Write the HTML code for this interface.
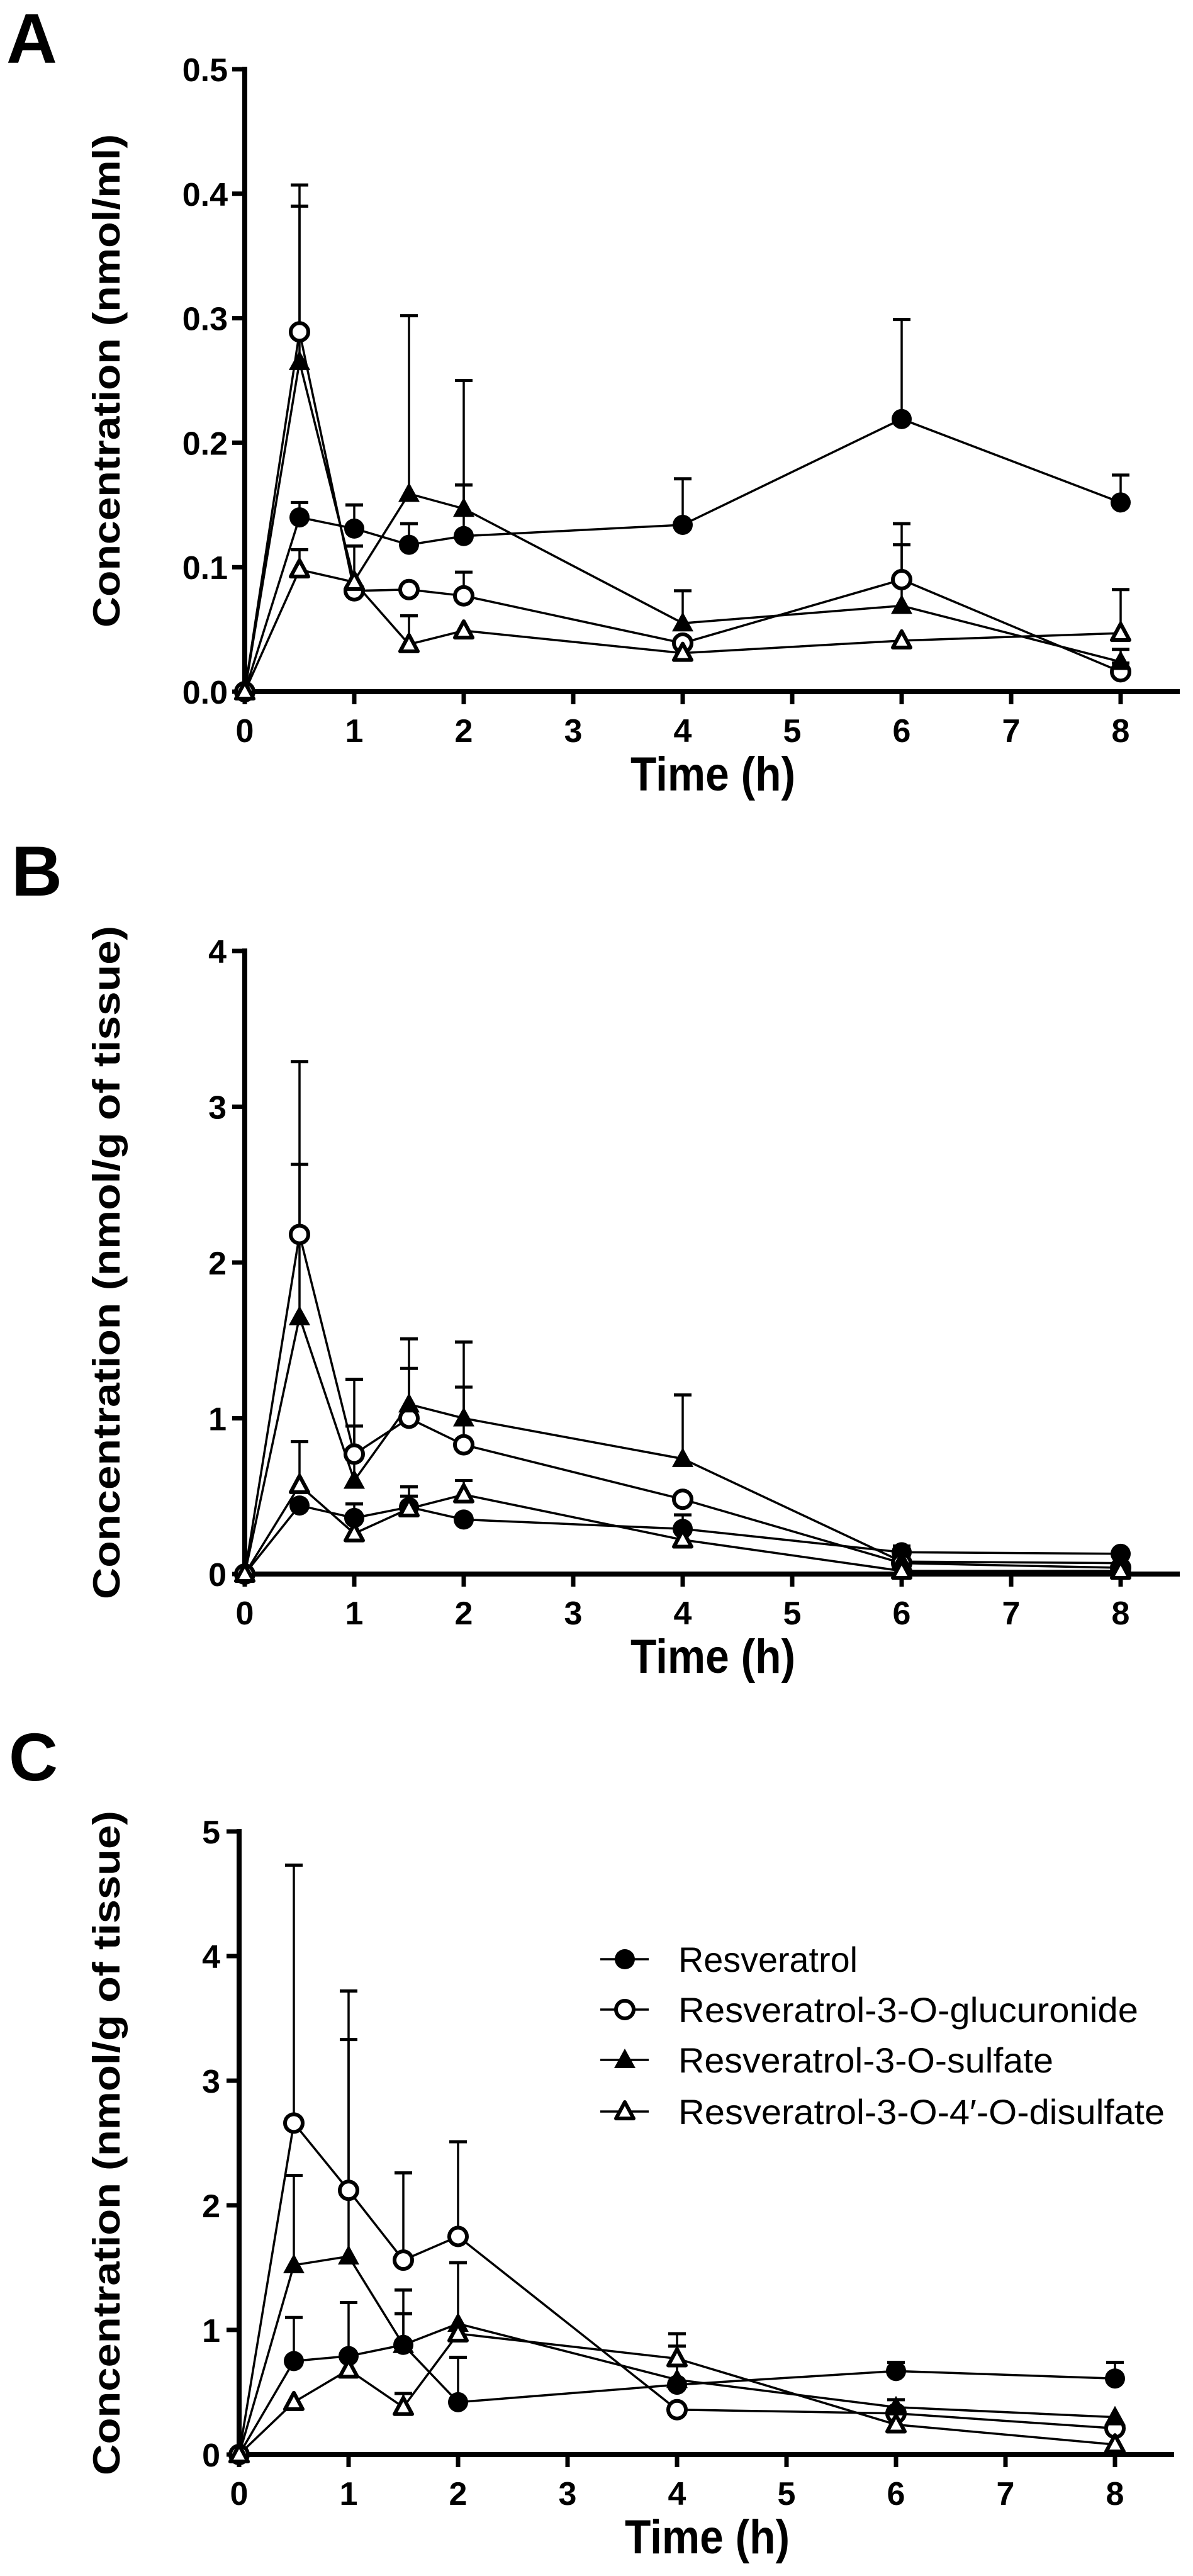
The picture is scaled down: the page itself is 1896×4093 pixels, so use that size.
<!DOCTYPE html>
<html><head><meta charset="utf-8"><style>
html,body{margin:0;padding:0;background:#fff;}
svg{display:block;}
text{font-family:"Liberation Sans",Arial,sans-serif;font-weight:bold;fill:#000;}
</style></head><body>
<svg id="s" xmlns="http://www.w3.org/2000/svg" width="1896" height="4093" viewBox="0 0 1896 4093">
<rect width="1896" height="4093" fill="#fff"/>
<text x="10" y="100" font-size="112">A</text>
<text x="18" y="1423" font-size="112">B</text>
<text x="14" y="2829" font-size="108">C</text>
<text transform="translate(190,605) rotate(-90)" text-anchor="middle" font-size="60" textLength="784" lengthAdjust="spacingAndGlyphs">Concentration (nmol/ml)</text>
<text transform="translate(190,2006) rotate(-90)" text-anchor="middle" font-size="60" textLength="1070" lengthAdjust="spacingAndGlyphs">Concentration (nmol/g of tissue)</text>
<text transform="translate(190,3405) rotate(-90)" text-anchor="middle" font-size="60" textLength="1056" lengthAdjust="spacingAndGlyphs">Concentration (nmol/g of tissue)</text>
<text x="1133" y="1256" text-anchor="middle" font-size="76" textLength="262" lengthAdjust="spacingAndGlyphs">Time (h)</text>
<text x="1133" y="2658" text-anchor="middle" font-size="76" textLength="262" lengthAdjust="spacingAndGlyphs">Time (h)</text>
<text x="1124" y="4057" text-anchor="middle" font-size="76" textLength="262" lengthAdjust="spacingAndGlyphs">Time (h)</text>
<g id="g"></g>
<g font-size="56">
<text x="1078" y="3133" style="font-weight:normal" textLength="285" lengthAdjust="spacingAndGlyphs">Resveratrol</text>
<text x="1078" y="3213" style="font-weight:normal" textLength="731" lengthAdjust="spacingAndGlyphs">Resveratrol-3-O-glucuronide</text>
<text x="1078" y="3293" style="font-weight:normal" textLength="596" lengthAdjust="spacingAndGlyphs">Resveratrol-3-O-sulfate</text>
<text x="1078" y="3375" style="font-weight:normal" textLength="773" lengthAdjust="spacingAndGlyphs">Resveratrol-3-O-4′-O-disulfate</text>
</g>
</svg>
<script>
var NS="http://www.w3.org/2000/svg",G=document.getElementById('g');
function el(t,a){var e=document.createElementNS(NS,t);for(var k in a)e.setAttribute(k,a[k]);G.appendChild(e);return e;}
function tx(x,y,s,anc){var e=el('text',{x:x,y:y,'font-size':52,'text-anchor':anc});e.textContent=s;}
function marker(k,cx,cy){
 if(k==0)el('circle',{cx:cx,cy:cy,r:16,fill:'#000'});
 else if(k==1)el('circle',{cx:cx,cy:cy,r:14,fill:'#fff',stroke:'#000','stroke-width':6});
 else if(k==2)el('polygon',{points:(cx)+','+(cy-18)+' '+(cx-17)+','+(cy+13)+' '+(cx+17)+','+(cy+13),fill:'#000'});
 else el('polygon',{points:(cx)+','+(cy-15)+' '+(cx-14)+','+(cy+11)+' '+(cx+14)+','+(cy+11),fill:'#fff',stroke:'#000','stroke-width':6,'stroke-linejoin':'round'});
}
var T=[0,0.5,1,1.5,2,4,6,8];
function panel(P){
 var X=function(t){return P.x0+174*t},Y=function(v){return P.y0-P.k*v};
 el('line',{x1:P.x0,y1:Y(P.ymax)-4,x2:P.x0,y2:P.y0+4,stroke:'#000','stroke-width':8});
 el('line',{x1:P.x0-4,y1:P.y0,x2:P.xend,y2:P.y0,stroke:'#000','stroke-width':8});
 for(var i=0;i<P.yt.length;i++){var yy=Y(P.yt[i]);
  el('line',{x1:P.x0-20,y1:yy,x2:P.x0,y2:yy,stroke:'#000','stroke-width':7});
  tx(P.lx,yy+19,P.yl[i],'end');}
 for(var t=0;t<=8;t++){
  el('line',{x1:X(t),y1:P.y0,x2:X(t),y2:P.y0+20,stroke:'#000','stroke-width':7});
  tx(X(t),P.y0+80,''+t,'middle');}
 P.s.forEach(function(s){var pts=T.map(function(t,i){return X(t)+','+Y(s.v[i])}).join(' ');
  el('polyline',{points:pts,fill:'none',stroke:'#000','stroke-width':3.5});});
 P.s.forEach(function(s){T.forEach(function(t,i){var c=s.e[i];if(c==null)return;
  el('line',{x1:X(t),y1:Y(s.v[i]),x2:X(t),y2:Y(c),stroke:'#000','stroke-width':3.5});
  el('line',{x1:X(t)-14,y1:Y(c),x2:X(t)+14,y2:Y(c),stroke:'#000','stroke-width':5});});});
 P.s.forEach(function(s,k){T.forEach(function(t,i){marker(k,X(t),Y(s.v[i]));});});
}
var n=null;
panel({x0:389,y0:1099,k:1978,ymax:0.5,xend:1875,lx:362,yt:[0,.1,.2,.3,.4,.5],yl:['0.0','0.1','0.2','0.3','0.4','0.5'],s:[
 {v:[0,.140,.131,.118,.125,.134,.219,.152],e:[n,.152,.150,.135,.166,.171,.299,.174]},
 {v:[0,.289,.081,.082,.077,.039,.090,.016],e:[n,.407,.117,n,.096,n,.135,.023]},
 {v:[0,.265,.089,.159,.147,.055,.069,.024],e:[n,.390,n,.302,.250,.081,.118,.034]},
 {v:[0,.098,.088,.038,.049,.031,.041,.047],e:[n,.114,n,.061,n,n,n,.082]}]});
panel({x0:389,y0:2501,k:247.5,ymax:4,xend:1875,lx:360,yt:[0,1,2,3,4],yl:['0','1','2','3','4'],s:[
 {v:[0,.44,.36,.43,.35,.29,.14,.13],e:[n,n,.45,.56,n,.38,.18,n]},
 {v:[0,2.18,.77,1.0,.83,.48,.07,.04],e:[n,3.29,1.25,1.32,1.20,n,n,n]},
 {v:[0,1.65,.6,1.09,1.0,.74,.08,.07],e:[n,2.63,.95,1.51,1.49,1.15,.16,n]},
 {v:[0,.57,.26,.42,.51,.22,.02,.02],e:[n,.85,n,.5,.6,n,n,n]}]});
panel({x0:380,y0:3900,k:198,ymax:5,xend:1866,lx:350,yt:[0,1,2,3,4,5],yl:['0','1','2','3','4','5'],s:[
 {v:[0,.75,.79,.88,.42,.56,.67,.61],e:[n,1.10,1.22,1.32,.78,n,.74,.74]},
 {v:[0,2.66,2.12,1.56,1.75,.36,.33,.21],e:[n,4.73,3.33,2.26,2.51,n,n,n]},
 {v:[0,1.52,1.59,.88,1.05,.60,.38,.30],e:[n,2.24,3.72,1.13,1.54,.97,.44,n]},
 {v:[0,.42,.68,.38,.97,.77,.24,.08],e:[n,n,n,.49,n,.87,n,n]}]});
[3113,3193,3273,3355].forEach(function(y,k){
 el('line',{x1:954,y1:y,x2:1031,y2:y,stroke:'#000','stroke-width':3.5});marker(k,993,y);});
</script>
</body></html>
